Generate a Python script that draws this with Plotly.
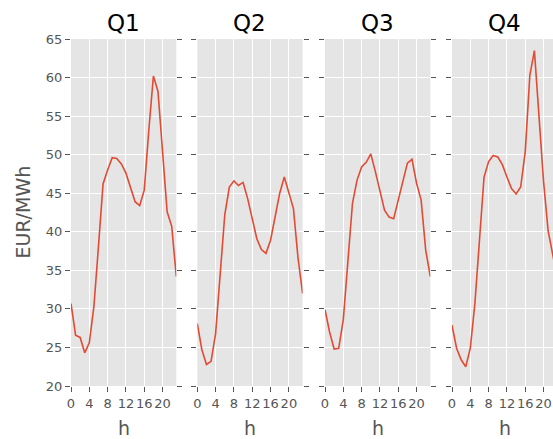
import plotly.graph_objects as go
from plotly.subplots import make_subplots

hours = list(range(24))
q1 = [30.7, 26.6, 26.3, 24.3, 25.6, 30.3, 38.1, 46.2, 48.0, 49.6, 49.5, 48.8,
      47.6, 45.8, 43.9, 43.4, 45.4, 53.2, 60.2, 58.2, 50.6, 42.6, 40.7, 34.2]
q2 = [28.1, 24.7, 22.8, 23.2, 26.8, 34.6, 42.2, 45.8, 46.6, 46.0, 46.4, 44.3,
      41.5, 39.1, 37.7, 37.2, 38.9, 42.0, 45.0, 47.1, 45.0, 43.0, 36.6, 32.0]
q3 = [29.9, 27.0, 24.8, 24.9, 28.6, 36.3, 43.7, 46.7, 48.4, 49.0, 50.1, 47.8,
      45.2, 42.8, 41.9, 41.7, 44.1, 46.7, 48.9, 49.4, 46.3, 44.1, 37.6, 34.2]
q4 = [27.9, 24.9, 23.4, 22.5, 24.9, 30.7, 38.9, 47.1, 49.1, 49.9, 49.7, 48.7,
      47.1, 45.6, 44.9, 45.8, 50.4, 60.3, 63.5, 54.4, 46.5, 40.1, 37.0, 34.0]
titles = ["Q1", "Q2", "Q3", "Q4"]
series = [q1, q2, q3, q4]
x_ticks = [0, 4, 8, 12, 16, 20]
y_ticks = [20, 25, 30, 35, 40, 45, 50, 55, 60, 65]

fig = make_subplots(rows=1, cols=4, shared_yaxes=True)

W, H = 553, 439
ml, mr, mt = 71, 0, 39
plot_bottom = 386
mb = H - plot_bottom
pw = W - ml - mr
panels_px = [(71, 176.3), (197.3, 302.6), (325, 430.3), (452, 553)]
domains = [((a - ml) / pw, min(1.0, (b - ml) / pw)) for a, b in panels_px]
px_per_h = 105.3 / 23.0

font = "DejaVu Sans"
grey = "#555555"
for i, (ys, t) in enumerate(zip(series, titles)):
    fig.add_trace(go.Scatter(x=hours, y=ys, mode="lines",
                             line=dict(color="#E24A33", width=1.6),
                             showlegend=False, hoverinfo="skip"), row=1, col=i + 1)
    xmax = (panels_px[i][1] - panels_px[i][0]) / px_per_h
    axn = "xaxis" if i == 0 else f"xaxis{i+1}"
    xid = "x" if i == 0 else f"x{i+1}"
    yid = "y" if i == 0 else f"y{i+1}"
    fig.layout[axn].update(
        domain=list(domains[i]), range=[0, xmax], tickvals=x_ticks,
        ticktext=[str(v) for v in x_ticks], tickangle=0, automargin=False,
        showgrid=True, gridcolor="white", gridwidth=1, zeroline=False,
        ticks="outside", ticklen=5, tickcolor=grey, mirror=False,
        showline=False,
        tickfont=dict(family=font, size=13, color=grey),
    )
    # top tick marks
    fig.layout[f"xaxis{i+5}"] = dict(
        overlaying=xid, anchor=yid, side="top", domain=list(domains[i]),
        range=[0, xmax], tickvals=x_ticks, showticklabels=False,
        showgrid=False, zeroline=False, showline=False, automargin=False,
        ticks="outside", ticklen=5, tickcolor=grey,
    )
    yan = "yaxis" if i == 0 else f"yaxis{i+1}"
    fig.layout[yan].update(
        range=[20, 65], tickvals=y_ticks, automargin=False,
        showgrid=True, gridcolor="white", gridwidth=1, zeroline=False,
        ticks="outside", ticklen=5, tickcolor=grey, mirror="ticks",
        showline=False,
        tickfont=dict(family=font, size=13, color=grey),
    )
    cx = domains[i][0] + (105.3 / pw) / 2
    fig.add_annotation(text=t, x=cx, y=1.0,
                       xref="paper", yref="paper", xanchor="center", yanchor="bottom",
                       yshift=1, showarrow=False,
                       font=dict(family=font, size=23, color="black"))
    fig.add_annotation(text="h", x=cx, y=0,
                       xref="paper", yref="paper", xanchor="center", yanchor="middle",
                       yshift=-(428 - 386), showarrow=False,
                       font=dict(family=font, size=19, color=grey))

fig.add_annotation(text="EUR/MWh", x=0, y=0.5, xref="paper", yref="paper",
                   xanchor="center", yanchor="middle", xshift=-(71 - 22),
                   textangle=-90, showarrow=False,
                   font=dict(family=font, size=19, color=grey))

fig.update_layout(
    width=W, height=H, margin=dict(l=ml, r=mr, t=mt, b=mb, autoexpand=False),
    paper_bgcolor="white", plot_bgcolor="#E5E5E5",
    font=dict(family=font),
)
fig.write_html("out.html", config={"displayModeBar": False},
               post_script="document.body.style.margin='0';document.body.style.overflow='hidden';")
